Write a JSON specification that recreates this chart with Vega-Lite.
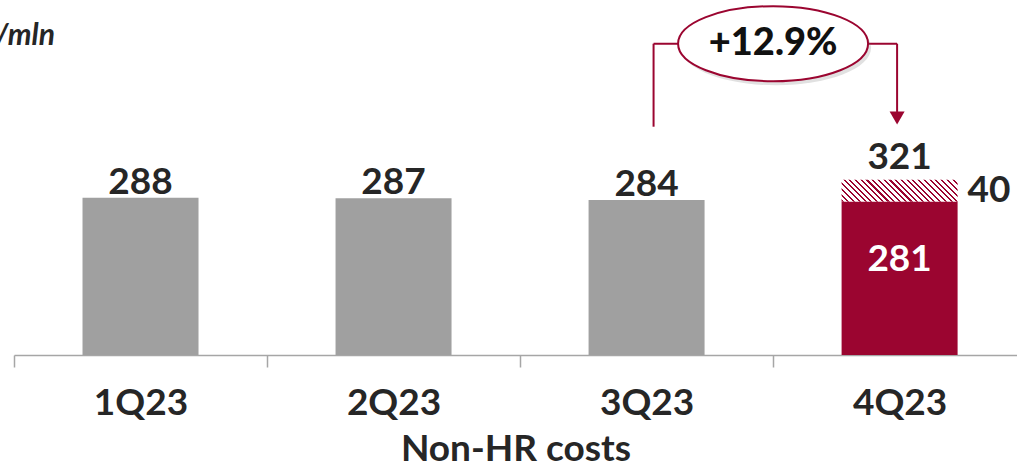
{
  "$schema": "https://vega.github.io/schema/vega-lite/v6.json",
  "width": 1003,
  "height": 355,
  "autosize": {"type": "none"},
  "padding": {"left": 14, "top": 0, "right": 0, "bottom": 115},
  "config": {"view": {"stroke": null}, "font": "Lato"},
  "datasets": {
    "bars": [
      {"quarter": 1, "period": "prior", "value": 288},
      {"quarter": 2, "period": "prior", "value": 287},
      {"quarter": 3, "period": "prior", "value": 284},
      {"quarter": 4, "period": "current", "value": 281}
    ],
    "extra": [{"quarter": 4, "start": 281, "end": 321, "value": 40}],
    "totals": [
      {"quarter": 1, "total": 288},
      {"quarter": 2, "total": 287},
      {"quarter": 3, "total": 284}
    ],
    "total4": [{"quarter": 4, "total": 321}],
    "bracket": [{"from": 3, "to": 4, "top": 570, "left_bottom": 418, "right_bottom": 445, "arrow": 434, "mid": 3.5, "change": "+12.9%"}],
    "unit": [{"quarter": 0.662, "y": 568, "text": "€/mln"}]
  },
  "layer": [
    {
      "data": {"name": "bars"},
      "mark": {"type": "bar", "width": 116},
      "encoding": {
        "x": {
          "field": "quarter", "type": "quantitative",
          "scale": {"domain": [0.5, 4.464], "nice": false, "zero": false, "padding": 0},
          "axis": {
            "values": [1, 2, 3, 4],
            "labelExpr": "['1Q23','2Q23','3Q23','4Q23'][datum.value - 1]",
            "grid": false,
            "domainColor": "#A6A6A6", "domainWidth": 1.5,
            "tickColor": "#A6A6A6", "tickWidth": 1.5, "tickSize": 12,
            "tickOffset": -126.5, "labelOffset": 126.5,
            "labelFlush": false, "labelOverlap": false, "labelBound": false,
            "labelFont": "Lato", "labelFontSize": 37, "labelFontWeight": "bold", "labelColor": "#262626",
            "labelPadding": 18,
            "title": "Non-HR costs",
            "titleFont": "Lato", "titleFontSize": 37, "titleFontWeight": "bold", "titleColor": "#262626",
            "titlePadding": 10
          }
        },
        "y": {
          "field": "value", "type": "quantitative",
          "scale": {"domain": [0, 650], "nice": false},
          "axis": null
        },
        "color": {
          "field": "period", "type": "nominal",
          "scale": {"domain": ["prior", "current"], "range": ["#A0A0A0", "#9B0530"]},
          "legend": null
        }
      }
    },
    {
      "data": {"name": "extra"},
      "mark": {
        "type": "bar", "width": 116,
        "fill": {
          "gradient": "linear", "x1": 0, "y1": 1, "x2": 1.147, "y2": 0.784,
          "stops": [
            {"offset": 0, "color": "#9B0530"}, {"offset": 0.015, "color": "#9B0530"}, {"offset": 0.015, "color": "#FFFFFF"}, {"offset": 0.04167, "color": "#FFFFFF"},
            {"offset": 0.04167, "color": "#9B0530"}, {"offset": 0.05667, "color": "#9B0530"}, {"offset": 0.05667, "color": "#FFFFFF"}, {"offset": 0.08333, "color": "#FFFFFF"},
            {"offset": 0.08333, "color": "#9B0530"}, {"offset": 0.09833, "color": "#9B0530"}, {"offset": 0.09833, "color": "#FFFFFF"}, {"offset": 0.125, "color": "#FFFFFF"},
            {"offset": 0.125, "color": "#9B0530"}, {"offset": 0.14, "color": "#9B0530"}, {"offset": 0.14, "color": "#FFFFFF"}, {"offset": 0.16667, "color": "#FFFFFF"},
            {"offset": 0.16667, "color": "#9B0530"}, {"offset": 0.18167, "color": "#9B0530"}, {"offset": 0.18167, "color": "#FFFFFF"}, {"offset": 0.20833, "color": "#FFFFFF"},
            {"offset": 0.20833, "color": "#9B0530"}, {"offset": 0.22333, "color": "#9B0530"}, {"offset": 0.22333, "color": "#FFFFFF"}, {"offset": 0.25, "color": "#FFFFFF"},
            {"offset": 0.25, "color": "#9B0530"}, {"offset": 0.265, "color": "#9B0530"}, {"offset": 0.265, "color": "#FFFFFF"}, {"offset": 0.29167, "color": "#FFFFFF"},
            {"offset": 0.29167, "color": "#9B0530"}, {"offset": 0.30667, "color": "#9B0530"}, {"offset": 0.30667, "color": "#FFFFFF"}, {"offset": 0.33333, "color": "#FFFFFF"},
            {"offset": 0.33333, "color": "#9B0530"}, {"offset": 0.34833, "color": "#9B0530"}, {"offset": 0.34833, "color": "#FFFFFF"}, {"offset": 0.375, "color": "#FFFFFF"},
            {"offset": 0.375, "color": "#9B0530"}, {"offset": 0.39, "color": "#9B0530"}, {"offset": 0.39, "color": "#FFFFFF"}, {"offset": 0.41667, "color": "#FFFFFF"},
            {"offset": 0.41667, "color": "#9B0530"}, {"offset": 0.43167, "color": "#9B0530"}, {"offset": 0.43167, "color": "#FFFFFF"}, {"offset": 0.45833, "color": "#FFFFFF"},
            {"offset": 0.45833, "color": "#9B0530"}, {"offset": 0.47333, "color": "#9B0530"}, {"offset": 0.47333, "color": "#FFFFFF"}, {"offset": 0.5, "color": "#FFFFFF"},
            {"offset": 0.5, "color": "#9B0530"}, {"offset": 0.515, "color": "#9B0530"}, {"offset": 0.515, "color": "#FFFFFF"}, {"offset": 0.54167, "color": "#FFFFFF"},
            {"offset": 0.54167, "color": "#9B0530"}, {"offset": 0.55667, "color": "#9B0530"}, {"offset": 0.55667, "color": "#FFFFFF"}, {"offset": 0.58333, "color": "#FFFFFF"},
            {"offset": 0.58333, "color": "#9B0530"}, {"offset": 0.59833, "color": "#9B0530"}, {"offset": 0.59833, "color": "#FFFFFF"}, {"offset": 0.625, "color": "#FFFFFF"},
            {"offset": 0.625, "color": "#9B0530"}, {"offset": 0.64, "color": "#9B0530"}, {"offset": 0.64, "color": "#FFFFFF"}, {"offset": 0.66667, "color": "#FFFFFF"},
            {"offset": 0.66667, "color": "#9B0530"}, {"offset": 0.68167, "color": "#9B0530"}, {"offset": 0.68167, "color": "#FFFFFF"}, {"offset": 0.70833, "color": "#FFFFFF"},
            {"offset": 0.70833, "color": "#9B0530"}, {"offset": 0.72333, "color": "#9B0530"}, {"offset": 0.72333, "color": "#FFFFFF"}, {"offset": 0.75, "color": "#FFFFFF"},
            {"offset": 0.75, "color": "#9B0530"}, {"offset": 0.765, "color": "#9B0530"}, {"offset": 0.765, "color": "#FFFFFF"}, {"offset": 0.79167, "color": "#FFFFFF"},
            {"offset": 0.79167, "color": "#9B0530"}, {"offset": 0.80667, "color": "#9B0530"}, {"offset": 0.80667, "color": "#FFFFFF"}, {"offset": 0.83333, "color": "#FFFFFF"},
            {"offset": 0.83333, "color": "#9B0530"}, {"offset": 0.84833, "color": "#9B0530"}, {"offset": 0.84833, "color": "#FFFFFF"}, {"offset": 0.875, "color": "#FFFFFF"},
            {"offset": 0.875, "color": "#9B0530"}, {"offset": 0.89, "color": "#9B0530"}, {"offset": 0.89, "color": "#FFFFFF"}, {"offset": 0.91667, "color": "#FFFFFF"},
            {"offset": 0.91667, "color": "#9B0530"}, {"offset": 0.93167, "color": "#9B0530"}, {"offset": 0.93167, "color": "#FFFFFF"}, {"offset": 0.95833, "color": "#FFFFFF"},
            {"offset": 0.95833, "color": "#9B0530"}, {"offset": 0.97333, "color": "#9B0530"}, {"offset": 0.97333, "color": "#FFFFFF"}, {"offset": 1, "color": "#FFFFFF"}
          ]
        }
      },
      "encoding": {
        "x": {"field": "quarter", "type": "quantitative"},
        "y": {"field": "start", "type": "quantitative"},
        "y2": {"field": "end"}
      }
    },
    {
      "data": {"name": "totals"},
      "mark": {"type": "text", "font": "Lato", "fontSize": 37, "fontWeight": "bold", "color": "#262626", "baseline": "alphabetic", "dy": -4},
      "encoding": {
        "x": {"field": "quarter", "type": "quantitative"},
        "y": {"field": "total", "type": "quantitative"},
        "text": {"field": "total", "type": "quantitative"}
      }
    },
    {
      "data": {"name": "total4"},
      "mark": {"type": "text", "font": "Lato", "fontSize": 37, "fontWeight": "bold", "color": "#262626", "baseline": "alphabetic", "dy": -11},
      "encoding": {
        "x": {"field": "quarter", "type": "quantitative"},
        "y": {"field": "total", "type": "quantitative"},
        "text": {"field": "total", "type": "quantitative"}
      }
    },
    {
      "data": {"name": "bars"},
      "transform": [{"filter": "datum.period === 'current'"}],
      "mark": {"type": "text", "font": "Lato", "fontSize": 37, "fontWeight": "bold", "color": "#FFFFFF", "baseline": "middle", "dy": 58},
      "encoding": {
        "x": {"field": "quarter", "type": "quantitative"},
        "y": {"field": "value", "type": "quantitative"},
        "text": {"field": "value", "type": "quantitative"}
      }
    },
    {
      "data": {"name": "extra"},
      "transform": [{"calculate": "(datum.start + datum.end) / 2", "as": "mid"}],
      "mark": {"type": "text", "font": "Lato", "fontSize": 37, "fontWeight": "bold", "color": "#262626", "baseline": "middle", "align": "left", "xOffset": 68},
      "encoding": {
        "x": {"field": "quarter", "type": "quantitative"},
        "y": {"field": "mid", "type": "quantitative"},
        "text": {"field": "value", "type": "quantitative"}
      }
    },
    {
      "data": {"name": "bracket"},
      "mark": {"type": "rule", "color": "#9B0530", "strokeWidth": 2, "xOffset": 7, "x2Offset": -2.5},
      "encoding": {
        "x": {"field": "from", "type": "quantitative"},
        "x2": {"field": "to"},
        "y": {"field": "top", "type": "quantitative"}
      }
    },
    {
      "data": {"name": "bracket"},
      "mark": {"type": "rule", "color": "#9B0530", "strokeWidth": 2, "xOffset": 7},
      "encoding": {
        "x": {"field": "from", "type": "quantitative"},
        "y": {"field": "left_bottom", "type": "quantitative"},
        "y2": {"field": "top"}
      }
    },
    {
      "data": {"name": "bracket"},
      "mark": {"type": "rule", "color": "#9B0530", "strokeWidth": 2, "xOffset": -2.5},
      "encoding": {
        "x": {"field": "to", "type": "quantitative"},
        "y": {"field": "right_bottom", "type": "quantitative"},
        "y2": {"field": "top"}
      }
    },
    {
      "data": {"name": "bracket"},
      "mark": {"type": "point", "shape": "triangle-down", "size": 225, "filled": true, "color": "#9B0530", "opacity": 1, "xOffset": -2.5},
      "encoding": {
        "x": {"field": "to", "type": "quantitative"},
        "y": {"field": "arrow", "type": "quantitative"}
      }
    },
    {
      "data": {"name": "bracket"},
      "mark": {"type": "point", "shape": "M -1 0 A 1 0.395 0 1 0 1 0 A 1 0.395 0 1 0 -1 0 Z", "size": 36100, "filled": true, "fill": "#777777", "fillOpacity": 0.22, "strokeWidth": 0, "xOffset": 3, "yOffset": 4},
      "encoding": {
        "x": {"field": "mid", "type": "quantitative"},
        "y": {"field": "top", "type": "quantitative"}
      }
    },
    {
      "data": {"name": "bracket"},
      "mark": {"type": "point", "shape": "M -1 0 A 1 0.395 0 1 0 1 0 A 1 0.395 0 1 0 -1 0 Z", "size": 36100, "filled": true, "fill": "#FFFFFF", "stroke": "#9B0530", "strokeWidth": 2, "opacity": 1},
      "encoding": {
        "x": {"field": "mid", "type": "quantitative"},
        "y": {"field": "top", "type": "quantitative"}
      }
    },
    {
      "data": {"name": "bracket"},
      "mark": {"type": "text", "font": "Lato", "fontSize": 38, "fontWeight": 900, "color": "#111111", "baseline": "middle"},
      "encoding": {
        "x": {"field": "mid", "type": "quantitative"},
        "y": {"field": "top", "type": "quantitative"},
        "text": {"field": "change", "type": "nominal"}
      }
    },
    {
      "data": {"name": "unit"},
      "mark": {"type": "text", "font": "Lato", "fontSize": 30, "fontWeight": "bold", "fontStyle": "italic", "color": "#262626", "baseline": "alphabetic", "align": "right"},
      "encoding": {
        "x": {"field": "quarter", "type": "quantitative"},
        "y": {"field": "y", "type": "quantitative"},
        "text": {"field": "text", "type": "nominal"}
      }
    }
  ]
}
